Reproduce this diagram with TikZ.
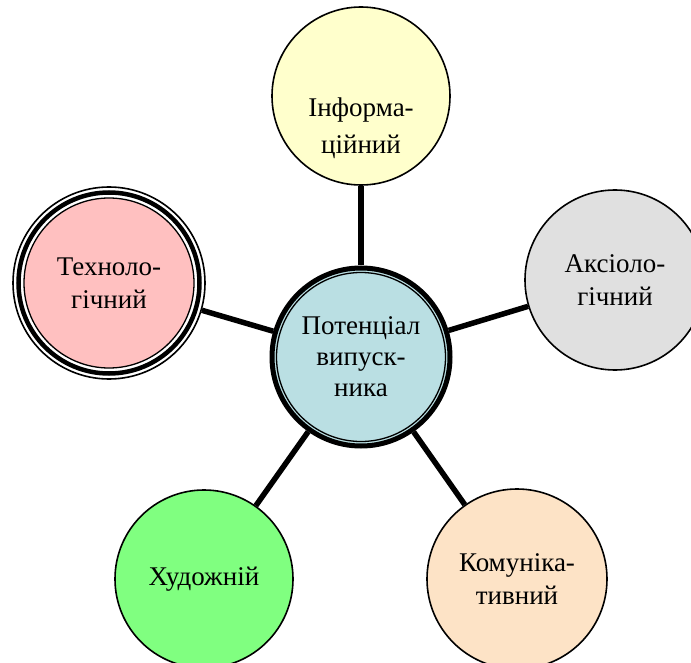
\documentclass[tikz,border=0pt]{standalone}
\usepackage{fontspec}
\setmainfont{Liberation Serif}
\usetikzlibrary{backgrounds}

\definecolor{potcol}{HTML}{BADFE3}
\definecolor{infcol}{HTML}{FFFFCC}
\definecolor{akscol}{HTML}{E0E0E0}
\definecolor{techcol}{HTML}{FFC0C0}
\definecolor{khudcol}{HTML}{80FF80}
\definecolor{komcol}{HTML}{FDE3C6}

\tikzset{
    sphere/.style={circle, draw, line width=1.6pt, minimum size=#1, inner sep=0pt,
        align=center, font=\fontsize{27}{33}\selectfont},
    link/.style={line width=5.5pt},
}

\begin{document}
\begin{tikzpicture}[x=1pt, y=-1pt]
    \clip (0,0) rectangle (691,663);

    % Centre
    \node[sphere=178pt, line width=5pt, fill=potcol,
        font=\fontsize{27}{31}\selectfont,
        path picture={\draw[line width=1.3pt] (path picture bounding box.center) circle (84.5pt);}]
        (pot) at (361,357) {Потенціал\\випуск-\\ника};

    % Kola
    \node[sphere=178pt, fill=infcol] (inf) at (361,96) {};
    \node[align=center, font=\fontsize{27}{37}\selectfont] (inftext) at (361,128) {Інформа-\\ційний};

    \node[sphere=180pt, fill=akscol] (aks) at (615,280) {Аксіоло-\\гічний};

    \node[sphere=192pt, fill=white,
        path picture={
            \fill[techcol] (path picture bounding box.center) circle (85pt);
            \draw[line width=1.3pt] (path picture bounding box.center) circle (85pt);
            \draw[line width=4.5pt] (path picture bounding box.center) circle (90.5pt);}]
        (tech) at (109,283) {Техноло-\\гічний};

    \node[sphere=178pt, fill=khudcol] (khud) at (204,579) {Художній};

    \node[sphere=180pt, fill=komcol] (kom) at (517,579) {Комуніка-\\тивний};

    % Zv'yazky
    \begin{scope}[on background layer]
        \foreach \n in {inf, aks, tech, khud, kom}
            \draw[link] (pot) -- (\n);
    \end{scope}
\end{tikzpicture}
\end{document}
